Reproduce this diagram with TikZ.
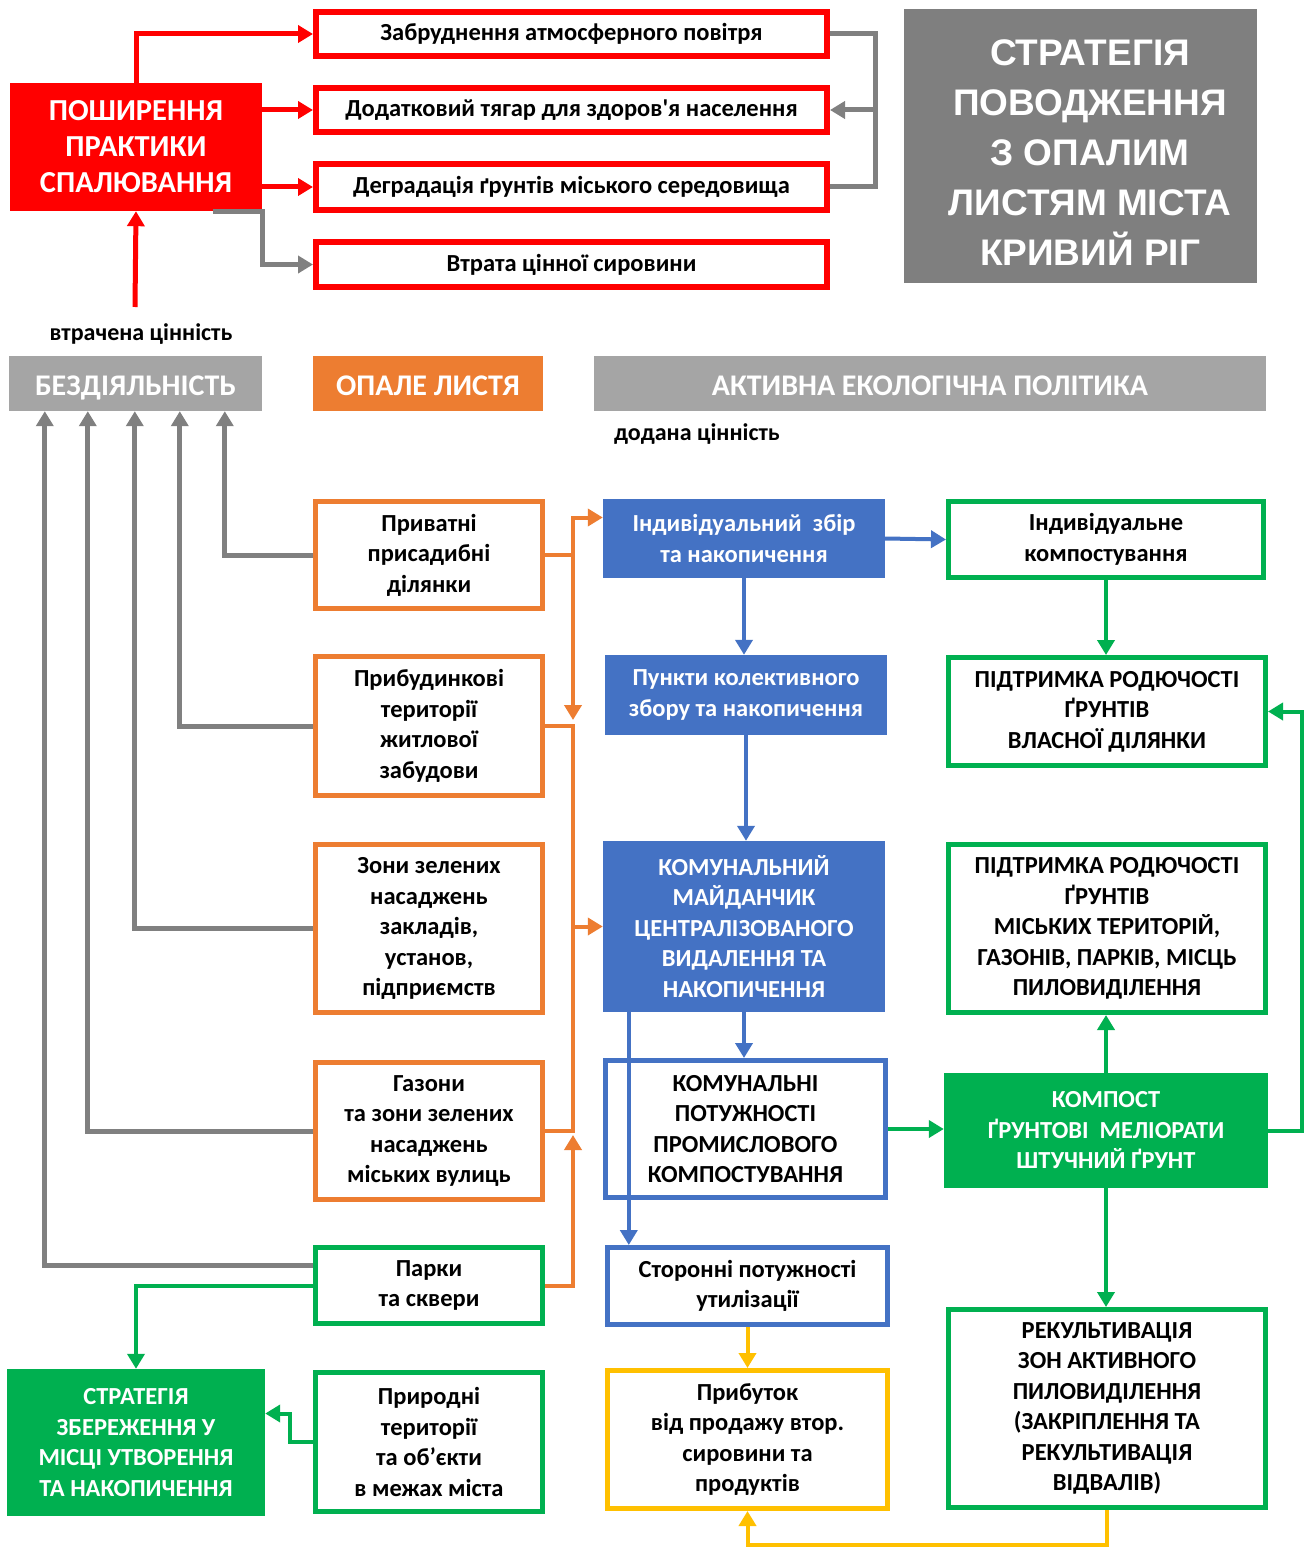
\documentclass[tikz,border=0pt]{standalone}
\usepackage{fontspec}
\setmainfont{Carlito}
\newfontfamily\carnl{Carlito}
\newfontfamily\arialf{Liberation Sans}
\usetikzlibrary{arrows.meta,calc}
\definecolor{cred}{HTML}{FF0000}
\definecolor{cdgray}{HTML}{7F7F7F}
\definecolor{clgray}{HTML}{A5A5A5}
\definecolor{cline}{HTML}{808080}
\definecolor{corange}{HTML}{ED7D31}
\definecolor{cblue}{HTML}{4472C4}
\definecolor{cgreen}{HTML}{00B050}
\definecolor{cyellow}{HTML}{FFC000}
\tikzset{
  bx/.style={rectangle, draw, line width=5pt, fill=white, align=center, inner sep=0pt,
    font=\bfseries\fontsize{24.5}{30.5}\selectfont},
  rbox/.style={bx, draw=cred, line width=6pt, font=\bfseries\fontsize{24.5}{28}\selectfont},
  sbox/.style={rectangle, draw=none, align=center, inner sep=0pt, text=white,
    font=\bfseries\fontsize{24.5}{30.5}\selectfont},
  hdr/.style={sbox, text height=24pt, text depth=0pt, font=\bfseries\fontsize{30}{32}\selectfont},
  lbl/.style={inner sep=0pt, font=\bfseries\fontsize{24}{26}\selectfont},
  tip/.style={-{Triangle[length=15pt,width=17pt]}},
  redarr/.style={tip, draw=cred, line width=5pt},
  grayln/.style={draw=cline, line width=5pt},
  grayarr/.style={tip, grayln},
  orln/.style={draw=corange, line width=4pt},
  orarr/.style={tip, orln},
  blarr/.style={tip, draw=cblue, line width=4pt},
  grarr/.style={tip, draw=cgreen, line width=4pt},
  yeln/.style={draw=cyellow, line width=4pt},
  yearr/.style={tip, yeln},
}
\begin{document}
\begin{tikzpicture}[x=1pt,y=-1pt]
\useasboundingbox[fill=white] (0,0) rectangle (1304,1549);

% top red boxes
\node[rbox, minimum width=511pt, minimum height=44pt] (zabr) at (571.5,34) {Забруднення атмосферного повітря};
\node[rbox, minimum width=511pt, minimum height=44pt] (dodat) at (571.5,110) {Додатковий тягар для здоров{\carnl\bfseries '}я населення};
\node[rbox, minimum width=511pt, minimum height=46pt] (degrad) at (571.5,187) {Деградація ґрунтів міського середовища};
\node[rbox, minimum width=511pt, minimum height=45pt] (vtrata) at (571.5,264.5) {Втрата цінної сировини};
\node[sbox, fill=cred, minimum width=252pt, minimum height=128pt, font=\bfseries\fontsize{30.5}{36}\selectfont] (poshyr) at (136,147) {ПОШИРЕННЯ\\ПРАКТИКИ\\СПАЛЮВАННЯ};

% title
\node[sbox, fill=cdgray, minimum width=353pt, minimum height=274pt] (title) at (1080.5,146) {};
\node[sbox, font=\arialf\bfseries\fontsize{37}{50}\selectfont] (titletext) at (1090,153) {СТРАТЕГІЯ\\ПОВОДЖЕННЯ\\З ОПАЛИМ\\ЛИСТЯМ МІСТА\\КРИВИЙ РІГ};

% labels
\coordinate (lostc) at (135,307);
\node[lbl] (lost) at (141,334) {втрачена цінність};
\node[lbl] (added) at (697,434) {додана цінність};

% headers
\node[hdr, fill=clgray, minimum width=253pt, minimum height=55pt] (bezd) at (135.5,383.5) {БЕЗДІЯЛЬНІСТЬ};
\node[hdr, fill=corange, minimum width=230pt, minimum height=55pt] (opale) at (428,383.5) {ОПАЛЕ ЛИСТЯ};
\node[hdr, fill=clgray, minimum width=672pt, minimum height=55pt] (aktyv) at (930,383.5) {АКТИВНА ЕКОЛОГІЧНА ПОЛІТИКА};

% left column
\node[bx, draw=corange, minimum width=227pt, minimum height=107pt] (priv) at (429,555) {Приватні\\присадибні\\ділянки};
\node[bx, draw=corange, minimum width=227pt, minimum height=139pt] (pribud) at (429,726) {Прибудинкові\\території\\житлової\\забудови};
\node[bx, draw=corange, minimum width=227pt, minimum height=168pt] (zony) at (429,928.5) {Зони зелених\\насаджень\\закладів,\\установ,\\підприємств};
\node[bx, draw=corange, minimum width=227pt, minimum height=137pt] (gazony) at (429,1131) {Газони\\та зони зелених\\насаджень\\міських вулиць};
\node[bx, draw=cgreen, minimum width=227pt, minimum height=76pt] (parky) at (429,1285.5) {Парки\\та сквери};
\node[bx, draw=cgreen, minimum width=227pt, minimum height=139pt] (pryrod) at (429,1442) {Природні\\території\\та об’єкти\\в межах міста};
\node[sbox, fill=cgreen, minimum width=258pt, minimum height=147pt] (strat) at (136,1442.5) {СТРАТЕГІЯ\\ЗБЕРЕЖЕННЯ У\\МІСЦІ УТВОРЕННЯ\\ТА НАКОПИЧЕННЯ};

% blue column
\node[sbox, fill=cblue, minimum width=282pt, minimum height=79pt] (indzbir) at (744,538.5) {Індивідуальний~~збір\\та накопичення};
\node[sbox, fill=cblue, minimum width=282pt, minimum height=80pt] (punkty) at (746,695) {Пункти колективного\\збору та накопичення};
\node[sbox, fill=cblue, minimum width=282pt, minimum height=171pt] (komun) at (744,926.5) {КОМУНАЛЬНИЙ\\МАЙДАНЧИК\\ЦЕНТРАЛІЗОВАНОГО\\ВИДАЛЕННЯ ТА\\НАКОПИЧЕННЯ};
\node[bx, draw=cblue, minimum width=280pt, minimum height=137pt] (kompot) at (745.5,1129) {КОМУНАЛЬНІ\\ПОТУЖНОСТІ\\ПРОМИСЛОВОГО\\КОМПОСТУВАННЯ};
\node[bx, draw=cblue, minimum width=280pt, minimum height=77pt] (storon) at (747.5,1286) {Сторонні потужності\\утилізації};
\node[bx, draw=cyellow, minimum width=280pt, minimum height=138pt] (prybut) at (747.5,1439.5) {Прибуток\\від продажу втор.\\сировини та\\продуктів};

% green column
\node[bx, draw=cgreen, minimum width=315pt, minimum height=76pt] (indkomp) at (1106,539.5) {Індивідуальне\\компостування};
\node[bx, draw=cgreen, minimum width=317pt, minimum height=108pt] (pidtr1) at (1107,711.5) {ПІДТРИМКА РОДЮЧОСТІ\\ҐРУНТІВ\\ВЛАСНОЇ ДІЛЯНКИ};
\node[bx, draw=cgreen, minimum width=317pt, minimum height=168pt] (pidtr2) at (1107,928.5) {ПІДТРИМКА РОДЮЧОСТІ\\ҐРУНТІВ\\МІСЬКИХ ТЕРИТОРІЙ,\\ГАЗОНІВ, ПАРКІВ, МІСЦЬ\\ПИЛОВИДІЛЕННЯ};
\node[sbox, fill=cgreen, minimum width=324pt, minimum height=115pt] (kompost) at (1106,1130.5) {КОМПОСТ\\ҐРУНТОВІ~~МЕЛІОРАТИ\\ШТУЧНИЙ ҐРУНТ};
\node[bx, draw=cgreen, minimum width=317pt, minimum height=198pt] (rekult) at (1107,1408.5) {РЕКУЛЬТИВАЦІЯ\\ЗОН АКТИВНОГО\\ПИЛОВИДІЛЕННЯ\\(ЗАКРІПЛЕННЯ ТА\\РЕКУЛЬТИВАЦІЯ\\ВІДВАЛІВ)};

% ---- connectors: top
\draw[redarr] (poshyr.north) |- (zabr.west);
\draw[redarr] (poshyr.east |- dodat.west) -- (dodat.west);
\draw[redarr] (poshyr.east |- degrad.west) -- (degrad.west);
\draw[grayarr] ([xshift=-49pt]poshyr.south east) -- (poshyr.south east) |- (vtrata.west);
\draw[redarr] (lostc) -- (poshyr.south);
\coordinate (gx) at (875,110);
\draw[grayln] (zabr.east) -| (gx) |- (degrad.east);
\draw[grayarr] (gx) -- (dodat.east);

% ---- gray to bezd
\draw[grayarr] (priv.west) -| ([xshift=216pt]bezd.south west);
\draw[grayarr] (pribud.west) -| ([xshift=171pt]bezd.south west);
\draw[grayarr] (zony.west) -| ([xshift=126pt]bezd.south west);
\draw[grayarr] (gazony.west) -| ([xshift=79pt]bezd.south west);
\draw[grayarr] ([yshift=20pt]parky.west) -| ([xshift=36pt]bezd.south west);

% ---- orange
\coordinate (ob1) at ($(priv.east)+(28,0)$);
\coordinate (ob2) at ($(pribud.east)+(28,0)$);
\draw[orln] (priv.east) -- (ob1);
\draw[orarr] (ob1) |- ([yshift=21pt]indzbir.west);
\draw[orarr] (ob1) -- ([yshift=6pt]ob2);
\draw[orln] (pribud.east) -- (ob2) |- (gazony.east);
\draw[orarr] (ob2 |- komun.west) -- (komun.west);
\draw[orarr] (parky.east) -| ([yshift=-4pt]ob2 |- gazony.east);

% ---- green left
\draw[grarr] (parky.west) -| (strat.north);
\draw[grarr] (pryrod.west) -- ++(-23,0) |- ([yshift=29pt]strat.east);

% ---- blue
\draw[blarr] (indzbir.east) -- (indkomp.west);
\draw[blarr] (indzbir.south) -- (indzbir.south |- punkty.north);
\draw[blarr] (punkty.south) -- (punkty.south |- komun.north);
\draw[blarr] (komun.south) -- (komun.south |- kompot.north);
\draw[blarr] ([xshift=26pt]komun.south west) -- ([xshift=26pt]komun.south west |- storon.north);

% ---- green right
\draw[grarr] (kompot.east) -- (kompot.east -| kompost.west);
\draw[grarr] (kompost.north) -- (kompost.north |- pidtr2.south);
\draw[grarr] (kompost.east) -- ++(34,0) |- (pidtr1.east);
\draw[grarr] (kompost.south) -- (kompost.south |- rekult.north);
\draw[grarr] (indkomp.south) -- (indkomp.south |- pidtr1.north);

% ---- yellow
\draw[yearr] (storon.south) -- (prybut.north);
\draw[yearr] (rekult.south) -- ++(0,35) -| (prybut.south);
\end{tikzpicture}
\end{document}
